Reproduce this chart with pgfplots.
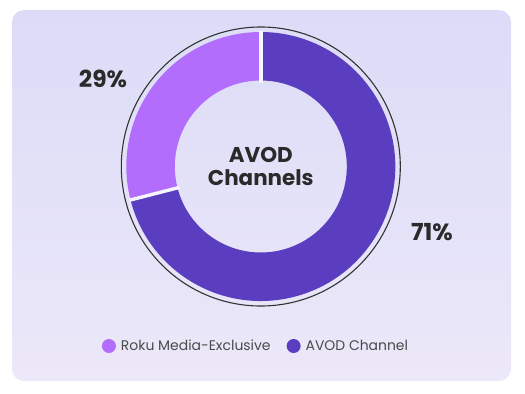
\documentclass[border=0pt]{standalone}
\usepackage{pgfplots}
\pgfplotsset{compat=1.18}
\usepackage{pgfplotstable}
\usepackage{fontspec}
\setmainfont{Poppins}
\definecolor{bgtop}{HTML}{DCDCF8}
\definecolor{bgbot}{HTML}{ECE8F9}
\definecolor{roku}{HTML}{B36DFC}
\definecolor{avod}{HTML}{5A3EBF}
\definecolor{txt}{HTML}{2A2A2A}
\definecolor{legtxt}{HTML}{4A4A4A}
\pgfplotstableread{
label value
Roku 29
AVOD 71
}\piedata
\pgfplotstablegetelem{0}{value}\of\piedata
\let\vroku\pgfplotsretval
\pgfmathsetmacro{\aend}{90+360*\vroku/100}
\def\Ro{134.5bp}
\def\Ri{86bp}
\begin{document}
\begin{tikzpicture}[x=1bp,y=1bp]
\path[use as bounding box] (0,0) rectangle (525,393);
\shade[top color=bgtop,bottom color=bgbot,rounded corners=12bp] (12,12) rectangle (511,383);
\begin{axis}[
  at={(0,0)}, anchor=south west,
  scale only axis, width=525bp, height=393bp,
  xmin=0, xmax=525, ymin=0, ymax=393,
  hide axis, clip=false,
  legend columns=2,
  legend style={at={(axis cs:256,47)}, anchor=center, draw=none, fill=none,
    font=\fontsize{14}{16}\selectfont, text=legtxt,
    /tikz/every even column/.append style={column sep=14bp},
    cells={anchor=west}},
]
\addlegendimage{legend image code/.code={\path[draw=none,fill=none] (-7bp,-1bp) rectangle (10bp,1bp); \fill[roku, draw=none] (0bp,0bp) circle (7bp);}}
\addlegendentry{Roku Media-Exclusive}
\addlegendimage{legend image code/.code={\path[draw=none,fill=none] (-7bp,-1bp) rectangle (10bp,1bp); \fill[avod, draw=none] (0bp,0bp) circle (7bp);}}
\addlegendentry{AVOD Channel}
\begin{scope}[shift={(axis cs:260.8,226.5)}]
  \draw[black!80, line width=1.1bp] (0,0) circle (139.5bp);
  \fill[roku] (90:\Ro) arc[start angle=90, end angle=\aend, radius=\Ro]
     -- (\aend:\Ri) arc[start angle=\aend, end angle=90, radius=\Ri] -- cycle;
  \fill[avod] (\aend:\Ro) arc[start angle=\aend, end angle=450, radius=\Ro]
     -- (450:\Ri) arc[start angle=450, end angle=\aend, radius=\Ri] -- cycle;
  \draw[white!70!bgtop, line width=3.4bp] (90:\Ri-2bp) -- (90:\Ro+1bp);
  \draw[white!70!bgtop, line width=3.4bp] (\aend:\Ri-2bp) -- (\aend:\Ro+1bp);
  \node[align=center, text=txt, font=\fontsize{21.5}{24}\selectfont\bfseries] at (0,0) {AVOD\\Channels};
\end{scope}
\addplot[forget plot, only marks, mark=none, point meta=explicit symbolic,
  nodes near coords, nodes near coords align=center,
  every node near coord/.append style={anchor=center, text=txt, font=\fontsize{23.5}{27}\selectfont\bfseries}]
  coordinates {(103,314) [29\%] (432,161) [71\%]};
\end{axis}
\end{tikzpicture}
\end{document}
